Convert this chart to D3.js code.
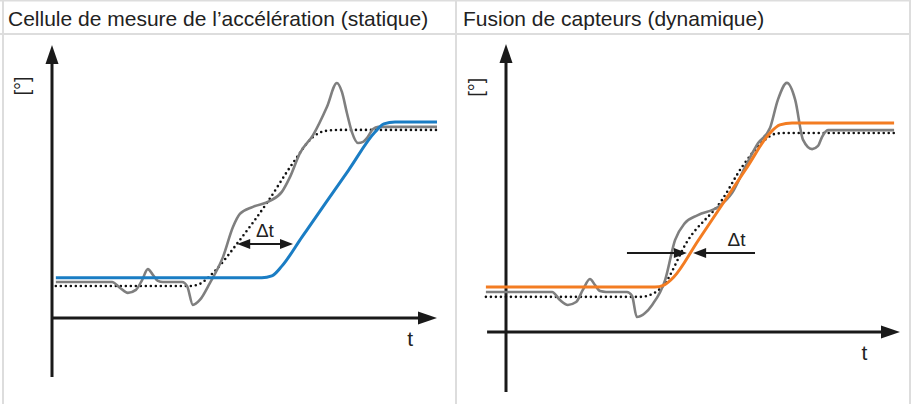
<!DOCTYPE html>
<html>
<head>
<meta charset="utf-8">
<script src="https://cdn.jsdelivr.net/npm/d3@7"></script>
<style>
  body { margin: 0; background: #fff; }
  svg { display: block; font-family: "Liberation Sans", Arial, sans-serif; }
</style>
</head>
<body>
<div id="chart"></div>
<script>
// panel titles
const titles = ['Cellule de mesure de l’accélération (statique)', 'Fusion de capteurs (dynamique)'];

// left panel: [time, angle] in 0..100 units
const accelSensor = [[1,14.7],[54.5,14.7],[57.1,15.4],[59.7,19.0],[65,29.8],[71,42.0],[77,54.1],[83.9,68.1],[86.2,71.1],[89.1,71.8],[100,71.8]];
const accelReal = [[1,11.7],[35.8,11.7],[38.4,12.5],[41.8,16.5],[48.8,28.6],[55.8,42.1],[62.6,56.8],[67.8,66.3],[70.9,68.5],[74.3,68.9],[100,68.9]];
const accelRaw = [[1,13.2],[15.6,13.2],[17.7,11.0],[19.7,9.2],[21.8,10.3],[23.4,13.9],[24.9,17.9],[26.2,15.8],[27.5,13.6],[28.8,13.2],
  [33.8,13.2],[35.1,11.7],[36.6,4.8],[38.4,6.6],[41.0,12.8],[44.4,22.3],[47.0,33.3],[48.8,38.1],[52.2,40.7],[56.6,42.9],
  [59.7,46.2],[61.8,51.6],[64.4,60.4],[67.8,67.0],[71.4,77.3],[74.0,86.1],[75.3,82.8],[76.6,75.1],[77.9,68.1],[79.5,64.1],
  [80.8,64.5],[81.8,65.9],[83.4,69.2],[84.7,70.0],[100,70.0]];

// right panel
const fusionSensor = [[-5.1,15.6],[37.8,15.6],[40.1,16.3],[42.6,19.1],[48.7,31.6],[54.8,44.1],[60.9,56.6],[67.0,69.1],[69.5,71.9],[72.6,72.6],[98.5,72.6]];
const fusionReal = [[-5.1,12.2],[34.0,12.2],[37.1,13.2],[39.6,15.6],[46.2,31.9],[54.8,45.8],[59.9,57.3],[65.7,66.7],[68.3,68.8],[70.8,69.1],[98.5,69.1]];
const fusionRaw = [[-5.1,13.9],[11.7,13.9],[13.7,11.1],[15.7,9.4],[17.8,10.4],[19.5,14.6],[21.3,18.4],[22.6,16.3],[23.9,14.2],[25.4,13.9],
  [30.7,13.9],[32.0,12.5],[33.2,5.2],[35.3,6.6],[37.1,9.4],[40.4,18.1],[42.9,31.9],[45.4,37.8],[48.7,40.6],[53.8,43.4],
  [57.4,48.3],[60.7,57.3],[64.0,65.6],[67.0,70.8],[69.0,80.6],[71.3,86.5],[73.4,80.6],[75.4,66.7],[77.7,63.5],[79.2,64.6],
  [80.2,67.7],[81.7,70.1],[98.5,70.1]];

// delta-t markers: [from, to] in time units, at angle level
const accelDelta = { from: 48.1, to: 62.6, level: 27.1, label: [55.3, 29.6] };
const fusionDelta = { leftFrom: 30.7, leftTo: 45.9, rightFrom: 63.2, rightTo: 47.5, level: 27.4, label: [58.5, 29.8] };

const W = 911, H = 404;
const border = '#dddddd';
const axisColor = '#1a1a1a';

const svg = d3.select('#chart').append('svg').attr('width', W).attr('height', H);

// table grid
svg.append('rect').attr('x', 0).attr('y', 0).attr('width', W).attr('height', 1.5).attr('fill', border);
svg.append('rect').attr('x', 0).attr('y', 33).attr('width', W).attr('height', 2).attr('fill', border);
[2, 455, 909].forEach(x => {
  svg.append('rect').attr('x', x).attr('y', 0).attr('width', 2).attr('height', H).attr('fill', border);
});

svg.append('text').attr('x', 8).attr('y', 26).attr('font-size', 21).attr('fill', '#222').text(titles[0]);
svg.append('text').attr('x', 463).attr('y', 26).attr('font-size', 21).attr('fill', '#222').text(titles[1]);

const panels = [
  { x: d3.scaleLinear().domain([0, 100]).range([52, 437]), y: d3.scaleLinear().domain([0, 100]).range([318, 45]),
    xStart: 0, yStart: -21.6, color: '#1a7dc4', raw: accelRaw, real: accelReal, sensor: accelSensor, tLabel: [93, -10.4] },
  { x: d3.scaleLinear().domain([0, 100]).range([506, 900]), y: d3.scaleLinear().domain([0, 100]).range([332, 44]),
    xStart: -4.8, yStart: -20.8, color: '#f37c22', raw: fusionRaw, real: fusionReal, sensor: fusionSensor, tLabel: [91, -9.7] }
];

function arrowHead(g, tip, dir, len, half) {
  // dir: unit vector the arrow points to
  const [tx, ty] = tip, [dx, dy] = dir;
  const bx = tx - dx * len, by = ty - dy * len;
  g.append('path')
    .attr('d', `M${tx},${ty}L${bx - dy * half},${by + dx * half}L${bx + dy * half},${by - dx * half}Z`)
    .attr('fill', axisColor);
}

panels.forEach((p, i) => {
  const g = svg.append('g');
  const line = d3.line().x(d => p.x(d[0])).y(d => p.y(d[1])).curve(d3.curveMonotoneX);

  // axes
  g.append('line').attr('x1', p.x(0)).attr('x2', p.x(0)).attr('y1', p.y(p.yStart)).attr('y2', p.y(100) + 12)
    .attr('stroke', axisColor).attr('stroke-width', 3);
  arrowHead(g, [p.x(0), p.y(100)], [0, -1], 19, 6.5);
  g.append('line').attr('x1', p.x(p.xStart)).attr('x2', p.x(100) - 12).attr('y1', p.y(0)).attr('y2', p.y(0))
    .attr('stroke', axisColor).attr('stroke-width', 3);
  arrowHead(g, [p.x(100), p.y(0)], [1, 0], 19, 6.5);

  g.append('text').attr('x', p.x(p.tLabel[0])).attr('y', p.y(p.tLabel[1])).attr('text-anchor', 'middle')
    .attr('font-size', 21).attr('fill', '#222').text('t');
  g.append('text').attr('transform', `translate(${p.x(0) - 23},${p.y(85)}) rotate(-90)`)
    .attr('text-anchor', 'middle').attr('font-size', 20).attr('fill', '#222').text('[°]');

  // curves
  g.append('path').datum(p.real).attr('d', line).attr('fill', 'none')
    .attr('stroke', '#111').attr('stroke-width', 2.6).attr('stroke-linecap', 'round').attr('stroke-dasharray', '0 5');
  g.append('path').datum(p.raw).attr('d', line).attr('fill', 'none')
    .attr('stroke', '#7f7f7f').attr('stroke-width', 2.6);
  g.append('path').datum(p.sensor).attr('d', line).attr('fill', 'none')
    .attr('stroke', p.color).attr('stroke-width', 3);
});

// delta t, left panel
{
  const p = panels[0], g = svg.append('g');
  const y = p.y(accelDelta.level), x1 = p.x(accelDelta.from), x2 = p.x(accelDelta.to);
  g.append('line').attr('x1', x1 + 8).attr('x2', x2 - 8).attr('y1', y).attr('y2', y).attr('stroke', axisColor).attr('stroke-width', 2);
  arrowHead(g, [x1, y], [-1, 0], 13, 5);
  arrowHead(g, [x2, y], [1, 0], 13, 5);
  g.append('text').attr('x', p.x(accelDelta.label[0])).attr('y', p.y(accelDelta.label[1])).attr('text-anchor', 'middle')
    .attr('font-size', 19).attr('fill', '#222').text('Δt');
}
// delta t, right panel
{
  const p = panels[1], g = svg.append('g');
  const y = p.y(fusionDelta.level);
  g.append('line').attr('x1', p.x(fusionDelta.leftFrom)).attr('x2', p.x(fusionDelta.leftTo) - 8).attr('y1', y).attr('y2', y)
    .attr('stroke', axisColor).attr('stroke-width', 2);
  arrowHead(g, [p.x(fusionDelta.leftTo), y], [1, 0], 13, 5);
  g.append('line').attr('x1', p.x(fusionDelta.rightFrom)).attr('x2', p.x(fusionDelta.rightTo) + 8).attr('y1', y).attr('y2', y)
    .attr('stroke', axisColor).attr('stroke-width', 2);
  arrowHead(g, [p.x(fusionDelta.rightTo), y], [-1, 0], 13, 5);
  g.append('text').attr('x', p.x(fusionDelta.label[0])).attr('y', p.y(fusionDelta.label[1])).attr('text-anchor', 'middle')
    .attr('font-size', 19).attr('fill', '#222').text('Δt');
}
</script>
</body>
</html>
